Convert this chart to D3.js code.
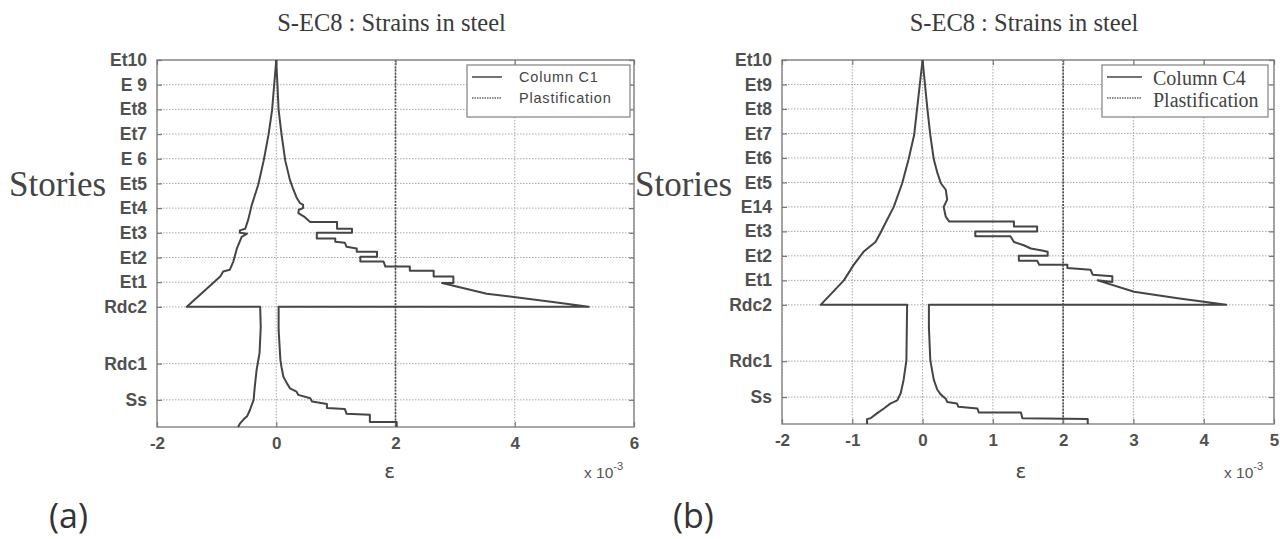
<!DOCTYPE html>
<html><head><meta charset="utf-8">
<script src="https://cdn.jsdelivr.net/npm/d3@7/dist/d3.min.js"></script>
<style>body{margin:0;background:#fff}svg{display:block}</style>
</head><body><svg id="c" width="1280" height="539"></svg>
<script>
// ---------- DATA ----------
const storyHeights = [3.3, 7.7, 14.6, 17.6, 20.6, 23.6, 26.6, 29.6, 32.6, 35.6, 38.6, 41.6, 44.6];
const storyLabelsA = ["Ss","Rdc1","Rdc2","Et1","Et2","Et3","Et4","Et5","E 6","Et7","Et8","E 9","Et10"];
const storyLabelsB = ["Ss","Rdc1","Rdc2","Et1","Et2","Et3","E14","Et5","Et6","Et7","Et8","Et9","Et10"];
const heightDomain = [0, 44.6];
const xTicksA = [-2, 0, 2, 4, 6];
const xTicksB = [-2, -1, 0, 1, 2, 3, 4, 5];
const plastification = 2;

// [strain x1e-3, height]
const c1Max = [[0,44.6],[0.04,38.5],[0.09,35.5],[0.15,32.4],[0.23,30.0],[0.28,29.0],[0.34,27.9],[0.40,27.2],[0.45,27.0],[0.45,26.6],[0.38,26.4],[0.37,26.0],[0.48,25.5],[0.57,24.9],[1.02,24.9],[1.02,24.1],[1.27,24.1],[1.27,23.6],[0.68,23.6],[0.68,22.9],[0.99,22.9],[0.99,22.5],[1.15,22.4],[1.18,21.9],[1.35,21.7],[1.35,21.3],[1.69,21.3],[1.69,20.7],[1.41,20.7],[1.41,20.1],[1.80,20.1],[1.83,19.5],[2.24,19.5],[2.24,19.0],[2.64,19.0],[2.64,18.3],[2.97,18.3],[2.97,17.5],[2.78,17.5],[3.53,16.2],[4.64,15.2],[5.24,14.6],[0.04,14.6],[0.04,11.8],[0.07,8.1],[0.09,7.2],[0.12,6.1],[0.18,5.3],[0.23,4.7],[0.34,4.3],[0.37,3.9],[0.57,3.5],[0.60,3.1],[0.85,2.8],[0.85,2.3],[1.15,2.2],[1.18,1.6],[1.57,1.5],[1.57,0.6],[2.02,0.6],[2.02,0]];
const c1Min = [[0,44.6],[-0.07,38.5],[-0.13,35.5],[-0.21,32.4],[-0.30,29.5],[-0.33,28.8],[-0.41,27.0],[-0.47,25.2],[-0.52,24.1],[-0.61,23.9],[-0.61,23.6],[-0.49,23.5],[-0.58,23.1],[-0.66,21.7],[-0.72,20.1],[-0.78,19.1],[-0.89,18.9],[-0.94,18.3],[-1.00,17.9],[-1.06,17.5],[-1.50,14.6],[-0.27,14.6],[-0.26,12.2],[-0.28,9.0],[-0.33,6.9],[-0.36,4.9],[-0.38,3.3],[-0.44,2.1],[-0.49,1.3],[-0.55,0.9],[-0.61,0.4],[-0.64,0]];
const c4Max = [[0,44.6],[0.07,38.5],[0.11,35.4],[0.16,32.4],[0.21,30.8],[0.26,29.5],[0.33,28.7],[0.35,27.5],[0.30,26.6],[0.33,25.4],[0.38,24.8],[1.30,24.8],[1.30,24.2],[1.63,24.2],[1.63,23.6],[0.75,23.6],[0.75,23.0],[1.25,23.0],[1.30,22.3],[1.44,21.9],[1.54,21.5],[1.68,21.3],[1.78,21.1],[1.78,20.6],[1.37,20.6],[1.37,20.0],[1.63,20.0],[1.66,19.5],[2.06,19.5],[2.06,19.1],[2.39,18.9],[2.42,18.3],[2.70,18.1],[2.70,17.4],[2.49,17.6],[3.01,16.2],[3.63,15.4],[4.32,14.6],[0.09,14.6],[0.09,11.9],[0.11,7.8],[0.16,5.4],[0.21,4.2],[0.26,3.6],[0.33,3.1],[0.35,2.7],[0.49,2.5],[0.51,2.1],[0.78,1.9],[0.80,1.4],[1.40,1.4],[1.42,0.7],[2.35,0.6],[2.35,0]];
const c4Min = [[0,44.6],[-0.08,38.5],[-0.12,35.4],[-0.20,32.4],[-0.29,29.5],[-0.41,26.6],[-0.53,24.6],[-0.60,23.4],[-0.67,22.3],[-0.84,21.1],[-0.98,19.5],[-1.12,17.6],[-1.45,14.6],[-0.22,14.6],[-0.23,7.8],[-0.27,5.4],[-0.31,3.8],[-0.36,2.9],[-0.46,2.5],[-0.55,1.9],[-0.65,1.3],[-0.74,0.7],[-0.79,0.6],[-0.79,0]];

// ---------- DRAW ----------
const svg = d3.select('#c');
const sans = "'Liberation Sans', Arial, sans-serif";
const serif = "'Liberation Serif', 'Times New Roman', serif";
const lineCol = '#454545';

function panel(o) {
  const g = svg.append('g');
  const x = d3.scaleLinear().domain(o.xDomain).range([o.left, o.right]);
  const y = d3.scaleLinear().domain(heightDomain).range([o.bottom, o.top]);

  // grid
  g.selectAll('.gx').data(o.xTicks).join('line')
    .attr('x1', d => x(d)).attr('x2', d => x(d)).attr('y1', o.top).attr('y2', o.bottom)
    .attr('stroke', '#a8a8a8').attr('stroke-width', 1).attr('stroke-dasharray', '1.5,1.5');
  g.selectAll('.gy').data(storyHeights).join('line')
    .attr('x1', o.left).attr('x2', o.right).attr('y1', d => y(d)).attr('y2', d => y(d))
    .attr('stroke', '#a8a8a8').attr('stroke-width', 1).attr('stroke-dasharray', '1.5,1.5');

  // plastification line
  g.append('line').attr('x1', x(plastification)).attr('x2', x(plastification))
    .attr('y1', o.top).attr('y2', o.bottom)
    .attr('stroke', '#505050').attr('stroke-width', 1.7).attr('stroke-dasharray', '2,1.2');

  // frame
  g.append('rect').attr('x', o.left).attr('y', o.top)
    .attr('width', o.right - o.left).attr('height', o.bottom - o.top)
    .attr('fill', 'none').attr('stroke', '#8a8a8a').attr('stroke-width', 1.5);

  // axes (ticks inward)
  const ax = d3.axisBottom(x).tickValues(o.xTicks).tickSize(-5).tickPadding(10).tickFormat(d => String(d));
  const axT = d3.axisTop(x).tickValues(o.xTicks).tickSize(-5).tickFormat('');
  const ay = d3.axisLeft(y).tickValues(storyHeights).tickSize(-5).tickPadding(10)
    .tickFormat((d, i) => o.yLabels[i]);
  const ayR = d3.axisRight(y).tickValues(storyHeights).tickSize(-5).tickFormat('');
  function style(sel, fs) {
    sel.select('.domain').remove();
    sel.selectAll('.tick line').attr('stroke', '#777').attr('stroke-width', 1.2);
    sel.selectAll('.tick text').attr('fill', '#505050').attr('font-family', sans)
      .attr('font-size', fs).attr('font-weight', 'bold');
  }
  g.append('g').attr('transform', `translate(0,${o.bottom})`).call(ax).call(style, 17);
  g.append('g').attr('transform', `translate(0,${o.top})`).call(axT).call(style, 17);
  g.append('g').attr('transform', `translate(${o.left},0)`).call(ay).call(style, 17.5);
  g.append('g').attr('transform', `translate(${o.right},0)`).call(ayR).call(style, 17);

  // series
  const line = d3.line().x(d => x(d[0])).y(d => y(d[1]));
  o.series.forEach(s => {
    g.append('path').attr('d', line(s)).attr('fill', 'none')
      .attr('stroke', lineCol).attr('stroke-width', 2).attr('stroke-linejoin', 'round');
  });

  // title
  g.append('text').attr('x', (o.left + o.right) / 2 - 4).attr('y', 31)
    .attr('text-anchor', 'middle').attr('font-family', serif).attr('font-size', 24.5)
    .attr('fill', '#3a3a3a').text('S-EC8 : Strains in steel');

  // Stories label
  g.append('text').attr('x', o.storiesX).attr('y', 196)
    .attr('font-family', serif).attr('font-size', 35).attr('fill', '#444').text('Stories');

  // x label
  g.append('text').attr('x', x(o.epsAt)).attr('y', 478).attr('text-anchor', 'middle')
    .attr('font-family', "'DejaVu Sans', sans-serif").attr('font-size', 20).attr('fill', '#444').text('ε');

  // x 10^-3
  const m = g.append('text').attr('x', o.right - 50).attr('y', 478)
    .attr('font-family', sans).attr('font-size', 15.5).attr('fill', '#555');
  m.append('tspan').text('x 10');
  m.append('tspan').attr('dy', -8).attr('font-size', 11).text('-3');

  // panel letter
  g.append('text').attr('x', o.letterX).attr('y', 528)
    .attr('font-family', "'Open Sans', 'Noto Sans', sans-serif").attr('font-size', 34)
    .attr('fill', '#333').text(o.letter);

  // legend
  const L = o.legend;
  const lg = g.append('g');
  lg.append('rect').attr('x', L.x).attr('y', L.y).attr('width', L.w).attr('height', L.h)
    .attr('fill', '#fff').attr('stroke', '#8a8a8a').attr('stroke-width', 1.3);
  lg.append('line').attr('x1', L.x + 5).attr('x2', L.x + L.lineW).attr('y1', L.y + 12).attr('y2', L.y + 12)
    .attr('stroke', lineCol).attr('stroke-width', 1.5);
  lg.append('line').attr('x1', L.x + 5).attr('x2', L.x + L.lineW).attr('y1', L.y + 33).attr('y2', L.y + 33)
    .attr('stroke', '#666').attr('stroke-width', 1.5).attr('stroke-dasharray', '1.5,1');
  lg.append('text').attr('x', L.x + L.textDx).attr('y', L.y + L.b1).attr('font-family', L.font)
    .attr('font-size', L.fs).attr('letter-spacing', L.ls).attr('fill', '#444').text(o.legendNames[0]);
  lg.append('text').attr('x', L.x + L.textDx).attr('y', L.y + L.b2).attr('font-family', L.font)
    .attr('font-size', L.fs).attr('letter-spacing', L.ls).attr('fill', '#444').text(o.legendNames[1]);
}

panel({
  left: 157, right: 634, top: 60, bottom: 427,
  xDomain: [-2, 6], xTicks: xTicksA, yLabels: storyLabelsA,
  series: [c1Max, c1Min], storiesX: 9, epsAt: 1.9, letter: '(a)', letterX: 49,
  legendNames: ['Column C1', 'Plastification'],
  legend: {x: 467, y: 65, w: 163, h: 52, lineW: 35, textDx: 52, b1: 17, b2: 38, fs: 14.5, ls: 0.8, font: sans}
});
panel({
  left: 782, right: 1274, top: 60, bottom: 424,
  xDomain: [-2, 5], xTicks: xTicksB, yLabels: storyLabelsB,
  series: [c4Max, c4Min], storiesX: 635, epsAt: 1.4, letter: '(b)', letterX: 673,
  legendNames: ['Column C4', 'Plastification'],
  legend: {x: 1102, y: 65, w: 166, h: 52, lineW: 40, textDx: 51, b1: 20, b2: 42, fs: 20, ls: 0, font: serif}
});
</script></body></html>
